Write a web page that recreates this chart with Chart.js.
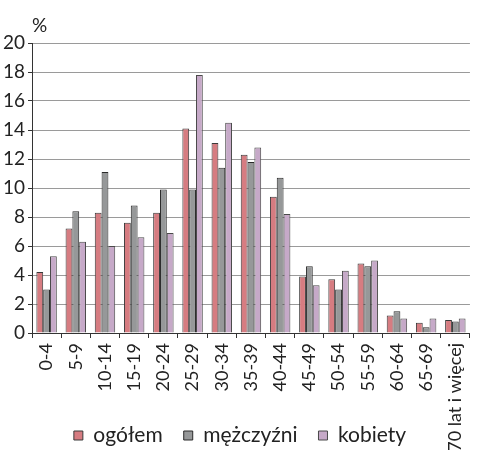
<!DOCTYPE html>
<html>
<head>
<meta charset="utf-8">
<script src="https://cdn.jsdelivr.net/npm/chart.js@4/dist/chart.umd.min.js"></script>
<style>
html,body{margin:0;padding:0;background:#fff;}
#wrap{width:482px;height:450px;position:relative;}
</style>
</head>
<body>
<div id="wrap"><canvas id="c" width="482" height="450"></canvas></div>
<script>
const categories = ['0-4','5-9','10-14','15-19','20-24','25-29','30-34','35-39','40-44','45-49','50-54','55-59','60-64','65-69','70 lat i więcej'];
const ogolem     = [4.2, 7.2, 8.3, 7.6, 8.3, 14.1, 13.1, 12.3, 9.4, 3.9, 3.7, 4.8, 1.2, 0.7, 0.9];
const mezczyzni  = [3.0, 8.4, 11.1, 8.8, 9.9, 9.9, 11.4, 11.8, 10.7, 4.6, 3.0, 4.6, 1.5, 0.4, 0.8];
const kobiety    = [5.3, 6.3, 6.0, 6.6, 6.9, 17.8, 14.5, 12.8, 8.2, 3.3, 4.3, 5.0, 1.0, 1.0, 1.0];
const yTicks = [0,2,4,6,8,10,12,14,16,18,20];
const unitLabel = '%';

const FONT = 'Lato, "Open Sans", sans-serif';
const percentPlugin = {
  id: 'percentLabel',
  afterDraw(chart) {
    const ctx = chart.ctx, a = chart.chartArea;
    ctx.save();
    ctx.font = '19px ' + FONT;
    ctx.fillStyle = '#222';
    ctx.textAlign = 'left';
    ctx.textBaseline = 'bottom';
    ctx.fillText(unitLabel, a.left, a.top - 8);
    ctx.restore();
  }
};

new Chart(document.getElementById('c'), {
  type: 'bar',
  data: {
    labels: categories,
    datasets: [
      {label:'ogółem', data: ogolem, backgroundColor:'#d67c81', borderColor:'#3a3a3a', borderWidth:1},
      {label:'mężczyźni', data: mezczyzni, backgroundColor:'#969899', borderColor:'#2a2a2a', borderWidth:1},
      {label:'kobiety', data: kobiety, backgroundColor:'#c6a9c8', borderColor:'#4a4a4a', borderWidth:1}
    ]
  },
  options: {
    responsive:false,
    animation:false,
    devicePixelRatio:1,
    layout:{padding:{top:43, right:2, left:0, bottom:-6}},
    datasets:{bar:{categoryPercentage:0.7, barPercentage:1.0}},
    plugins:{
      legend:{
        position:'bottom',
        labels:{
          boxWidth:9, boxHeight:9, padding:21,
          color:'#222',
          font:{family:FONT, size:21}
        }
      },
      tooltip:{enabled:false}
    },
    scales:{
      x:{
        grid:{display:true, drawOnChartArea:false, drawTicks:true, tickLength:5, color:'#333', offset:true},
        border:{display:true, color:'#333', width:1},
        ticks:{maxRotation:90, minRotation:90, autoSkip:false, color:'#222', padding:5, font:{family:FONT, size:18}},
        afterFit(scale){
          scale.height = 71;
          scale._computeLabelArea = function(){
            return {top:this.top, left:0, bottom:this.chart.height, right:this.chart.width};
          };
        }
      },
      y:{
        min:0, max:20,
        afterBuildTicks(scale){ scale.ticks = yTicks.map(v=>({value:v})); },
        grid:{color:'#9a9a9a', lineWidth:1, borderDash:[1,1], tickLength:4, tickColor:'#333', tickBorderDash:[]},
        border:{display:true, color:'#333', width:1},
        ticks:{color:'#222', padding:3, font:{family:FONT, size:19}},
        afterFit(scale){ scale.width = 32; }
      }
    }
  },
  plugins:[percentPlugin]
});
</script>
</body>
</html>
